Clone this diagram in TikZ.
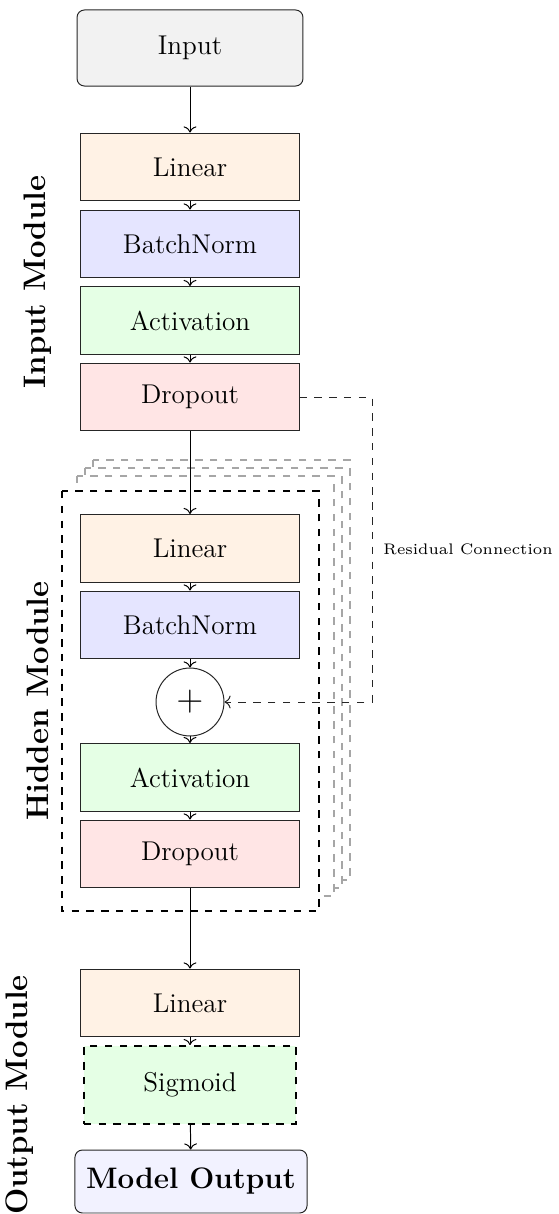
\documentclass[tikz,border=0pt]{standalone}
\usetikzlibrary{arrows.meta}
\begin{document}
\begin{tikzpicture}[x=0.405pt,y=-0.405pt,
  layer/.style={draw=black!85, minimum width=88.3pt, minimum height=27.5pt, inner sep=2pt, font=\fontsize{11}{13}\selectfont},
  lin/.style={layer, fill=orange!10},
  bn/.style={layer, fill=blue!10},
  act/.style={layer, fill=green!10},
  drop/.style={layer, fill=red!10},
  endbox/.style={draw=black!85, rounded corners=3pt, inner sep=2pt},
  flow/.style={->},
  modlabel/.style={rotate=90, font=\fontsize{12.6}{15}\selectfont\bfseries},
  ghost/.style={draw=black!35, thick, dashed, fill=white},
  hidframe/.style={draw=black, thick, dashed, fill=white},
  res/.style={dashed, black!85}]

\useasboundingbox (0,0) rectangle (558,1214);

% stacked frames of the repeated hidden module
\foreach \o in {31,23,15}
  \draw[ghost] (62+\o,491-\o) rectangle (319+\o,911-\o);
\draw[hidframe] (62,491) rectangle (319,911);

% input
\node[endbox, fill=gray!10, minimum width=91.5pt, minimum height=30.8pt, font=\fontsize{11}{13}\selectfont] (in) at (190,48) {Input};

% input module
\node[lin]  (l1) at (190,167)   {Linear};
\node[bn]   (b1) at (190,244)   {BatchNorm};
\node[act]  (a1) at (190,320.5) {Activation};
\node[drop] (d1) at (190,397)   {Dropout};

% hidden module
\node[lin]  (l2) at (190,548.5) {Linear};
\node[bn]   (b2) at (190,625)   {BatchNorm};
\node[circle, draw=black!85, fill=white, minimum size=27.5pt, inner sep=0pt, font=\Large] (add) at (190,702) {$+$};
\node[act]  (a2) at (190,777.5) {Activation};
\node[drop] (d2) at (190,854)   {Dropout};

% output module
\node[lin] (l3) at (190,1003) {Linear};
\node[act, draw=black, dashed, thick, minimum width=86pt, minimum height=31.5pt] (sg) at (190,1085) {Sigmoid};
\node[endbox, fill=blue!5, font=\large\bfseries, minimum width=94pt, minimum height=25.5pt] (out) at (191,1181.5) {Model Output};

% module labels
\node[modlabel] (lin) at (38,282)  {Input Module};
\node[modlabel] (lhid) at (38,701) {Hidden Module};
\node[modlabel] (lout) at (20,1095) {Output Module};

% main flow
\draw[flow] (in) -- (l1);
\draw[flow] (l1) -- (b1);
\draw[flow] (b1) -- (a1);
\draw[flow] (a1) -- (d1);
\draw[flow] (d1) -- (l2);
\draw[flow] (l2) -- (b2);
\draw[flow] (b2) -- (add);
\draw[flow] (add) -- (a2);
\draw[flow] (a2) -- (d2);
\draw[flow] (d2) -- (l3);
\draw[flow] (l3) -- (sg);
\draw[flow] (sg) -- (out);

% residual connection
\coordinate (rc) at (372,397);
\draw[res, ->] (d1.east) -- (rc) |- (add.east);
\node[anchor=west, font=\fontsize{6.2}{7.5}\selectfont, inner sep=0pt] (rlab) at (383,549) {Residual Connection};
\end{tikzpicture}
\end{document}
